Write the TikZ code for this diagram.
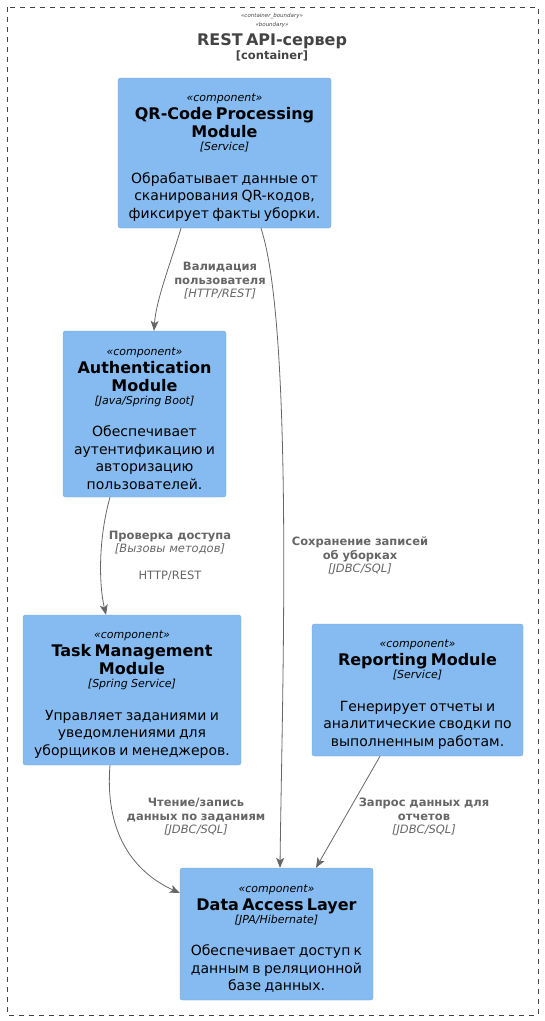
\documentclass[tikz,border=0pt]{standalone}
\usepackage{fontspec}
\setmainfont{DejaVu Sans}
\usetikzlibrary{arrows.meta,calc}
\definecolor{compfill}{HTML}{85BBF0}
\definecolor{compline}{HTML}{78A8D8}
\definecolor{relgray}{HTML}{666666}
\definecolor{bndgray}{HTML}{444444}
\newcommand\fsz[2]{\fontsize{#1}{#2}\selectfont}
\newcommand\stereo[1]{{\fsz{11}{13}\itshape\rule{0pt}{17pt}#1\par}}
\newcommand\ctitle[1]{{\fsz{16}{18}\bfseries #1\par}}
\newcommand\ctech[1]{{\fsz{11}{13}\itshape #1\par}}
\newcommand\cdesc[1]{\vspace{15pt}{\fsz{14}{17.5}#1\par}}
\tikzset{
  comp/.style={draw=compline, fill=compfill, rounded corners=2.5pt, align=center,
    inner sep=0pt, text=black},
  rel/.style={draw=relgray, line width=0.8pt, -{Stealth[length=10pt,width=8pt,inset=2.5pt]}},
  rellabel/.style={text=relgray, align=center, font=\fsz{11.5}{13.5}, inner sep=0pt,
    text width=150pt}
}
\begin{document}
\begin{tikzpicture}[x=1pt,y=-1pt]
	\useasboundingbox (0,0) rectangle (544,1021);
	\draw [bndgray, dash pattern=on 5pt off 5pt] (7,7) rectangle (538,1015);
	\node [align=center, text=bndgray, inner sep=0pt, text width=200pt] (bndtitle) at (272,37.5)
		{{\fsz{5.5}{9}\itshape «container\_boundary»\par}
		 {\fsz{5.5}{9}\itshape «boundary»\par}
		 {\fsz{16}{18.5}\bfseries REST API-сервер\par}
		 {\fsz{11.5}{14.5}\bfseries [container]\par}};

	% components
	\node [comp, minimum width=213pt, minimum height=150pt, text width=205pt] (qr) at (224.5,153)
		{\stereo{«component»}\ctitle{QR-Code Processing\\Module}\ctech{[Service]}%
		 \cdesc{Обрабатывает данные от\\сканирования QR-кодов,\\фиксирует факты уборки.}};
	\node [comp, minimum width=163pt, minimum height=166pt, text width=155pt] (auth) at (144.5,414)
		{\stereo{«component»}\ctitle{Authentication\\Module}\ctech{[Java/Spring Boot]}%
		 \cdesc{Обеспечивает\\аутентификацию и\\авторизацию\\пользователей.}};
	\node [comp, minimum width=218pt, minimum height=150pt, text width=210pt] (task) at (132,690)
		{\stereo{«component»}\ctitle{Task Management\\Module}\ctech{[Spring Service]}%
		 \cdesc{Управляет заданиями и\\уведомлениями для\\уборщиков и менеджеров.}};
	\node [comp, minimum width=211pt, minimum height=132pt, text width=203pt] (report) at (417.5,690)
		{\stereo{«component»}\ctitle{Reporting Module}\ctech{[Service]}%
		 \cdesc{Генерирует отчеты и\\аналитические сводки по\\выполненным работам.}};
	\node [comp, minimum width=193pt, minimum height=132pt, text width=185pt] (dal) at (276.5,934)
		{\stereo{«component»}\ctitle{Data Access Layer}\ctech{[JPA/Hibernate]}%
		 \cdesc{Обеспечивает доступ к\\данным в реляционной\\базе данных.}};

	% relations
	\draw [rel] ([xshift=-43.5pt]qr.south) .. controls (171,262) and (156,300) .. ([xshift=9.5pt]auth.north);
	\draw [rel] ([xshift=36.5pt]qr.south) .. controls (294,330) and (282,700) .. ([xshift=3.5pt]dal.north);
	\draw [rel] ([xshift=-34.5pt]auth.south) .. controls (98,540) and (99,585) .. ([xshift=-26pt]task.north);
	\draw [rel] ([xshift=-22pt]task.south) .. controls (104,840) and (140,875) .. ([yshift=41pt]dal.west);
	\draw [rel] ([xshift=-37.5pt]report.south) -- ([xshift=39.5pt]dal.north);

	% relation labels
	\node [rellabel] (lblvalid) at (220,281)
		{{\bfseries Валидация\\пользователя}\\{\itshape [HTTP/REST]}};
	\node [rellabel] (lblsave) at (360,556)
		{{\bfseries Сохранение записей\\об уборках}\\{\itshape [JDBC/SQL]}};
	\node [rellabel] (lblaccess) at (170,556)
		{{\bfseries Проверка доступа}\\{\itshape [Вызовы методов]}\\[13.5pt]HTTP/REST};
	\node [rellabel] (lblrw) at (196,817)
		{{\bfseries Чтение/запись\\данных по заданиям}\\{\itshape [JDBC/SQL]}};
	\node [rellabel] (lblquery) at (424,817)
		{{\bfseries Запрос данных для\\отчетов}\\{\itshape [JDBC/SQL]}};
\end{tikzpicture}
\end{document}
